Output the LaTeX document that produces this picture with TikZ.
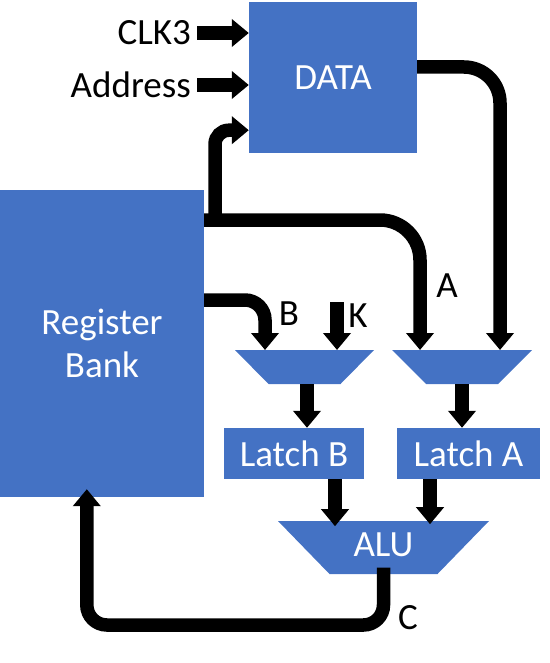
\documentclass[tikz,border=0pt]{standalone}
\usepackage{fontspec}
\setmainfont{Carlito}
\usetikzlibrary{arrows.meta}
\definecolor{boxblue}{RGB}{68,114,196}

\tikzset{
  block/.style={fill=boxblue, text=white, inner sep=0pt, align=center},
  muxfill/.style={fill=boxblue},
  bus/.style={line width=13.5pt, -{Triangle[width=27pt,length=17pt]}},
  lbl/.style={inner sep=0pt}
}

\begin{document}
\begin{tikzpicture}[x=1pt,y=1pt,yscale=-1,font=\fontsize{37}{43}\selectfont]
  \useasboundingbox (0,0) rectangle (549,663);

  % blocks
  \node[block, minimum width=168pt, minimum height=151pt] (data) at (333,77.5) {DATA};
  \node[block, minimum width=204pt, minimum height=307pt] (reg) at (102,343.5) {Register\\Bank};
  \node[block, minimum width=140pt, minimum height=51pt] (latchb) at (294,453.5) {Latch B};
  \node[block, minimum width=143pt, minimum height=51pt] (latcha) at (468.5,453.5) {Latch A};

  % muxes and ALU (trapezoids)
  \coordinate (muxb) at (304.5,367);
  \coordinate (muxa) at (462,367);
  \coordinate (alupos) at (383.5,547.5);
  \fill[muxfill] (muxb) ++(-69.5,-17) -- ++(139,0) -- ++(-33.5,34) -- ++(-72,0) -- cycle;
  \fill[muxfill] (muxa) ++(-70,-17) -- ++(140,0) -- ++(-34,34) -- ++(-72,0) -- cycle;
  \fill[muxfill] (alupos) ++(-105.5,-26.5) -- ++(211,0) -- ++(-51.5,53) -- ++(-108,0) -- cycle;
  \node[lbl, text=white] (alu) at ([yshift=-3pt]alupos) {ALU};

  % text labels
  \node[lbl, anchor=east] (clk) at (191,33) {CLK3};
  \node[lbl, anchor=east] (addr) at (191,85) {Address};
  \node[lbl] (la) at (447,286) {A};
  \node[lbl] (lb) at (289,314) {B};
  \node[lbl] (lk) at (358,316) {K};
  \node[lbl] (lc) at (408,618) {C};

  \coordinate (split) at (215,220);
  \coordinate (kin) at (337,302);
  \coordinate (muxbin) at ([yshift=-17pt]muxb);
  \coordinate (muxain) at ([yshift=-17pt]muxa);

  % inputs to DATA
  \draw[bus] ([xshift=6pt]clk.east) -- (clk.east -| data.west);
  \draw[bus] ([xshift=6pt]addr.east) -- (addr.east -| data.west);
  \draw[bus, rounded corners=14pt] (split) |- ([yshift=-23pt]data.south west);

  % register bank and DATA to the muxes
  \draw[bus, rounded corners=40pt] (reg.east |- split) -| ([xshift=-42pt]muxain);
  \draw[bus, rounded corners=36pt] ([yshift=-10.5pt]data.east) -| ([xshift=38pt]muxain);
  \draw[bus, rounded corners=20pt] ([yshift=-43.5pt]reg.east) -| ([xshift=-39.5pt]muxbin);
  \draw[bus] (kin) -- (kin |- muxbin);

  % muxes to latches to ALU
  \draw[bus] ([xshift=2.5pt,yshift=17pt]muxb) -- ([xshift=2.5pt]muxb |- latchb.north);
  \draw[bus] ([yshift=17pt]muxa) -- (muxa |- latcha.north);
  \draw[bus] ([xshift=41pt]latchb.south) -- ++(0,47);
  \draw[bus] ([xshift=-38.5pt]latcha.south) -- ++(0,45);

  % result back to the register bank
  \draw[bus, rounded corners=20pt] ([yshift=20pt]alupos) -- ++(0,57.5) -| ([xshift=87pt,yshift=-8pt]reg.south west);
\end{tikzpicture}
\end{document}
